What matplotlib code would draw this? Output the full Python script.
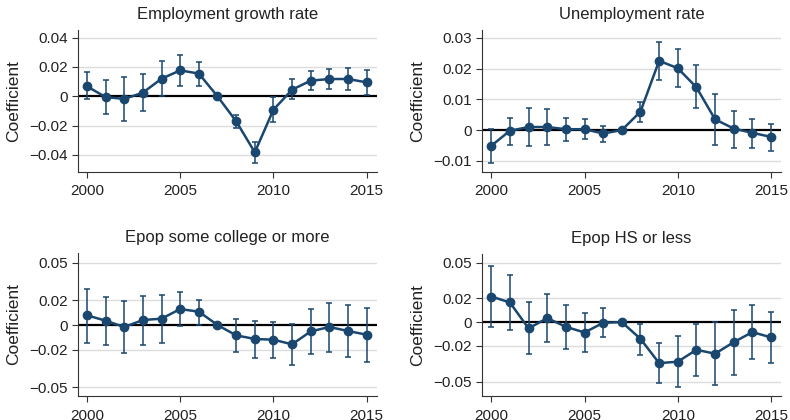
import numpy as np
import matplotlib.pyplot as plt
from matplotlib.ticker import FuncFormatter

plt.rcParams['font.family'] = ['Liberation Sans', 'DejaVu Sans']

years = list(range(2000, 2016))

# Employment growth rate
emp_coef = [0.0068, -0.0005, -0.0018, 0.0025, 0.0120, 0.0177, 0.0155, 0.0,
            -0.0170, -0.0382, -0.0091, 0.0045, 0.0107, 0.0118, 0.0118, 0.0095]
emp_hi = [0.0164, 0.0114, 0.0130, 0.0155, 0.0243, 0.0284, 0.0234, np.nan,
          -0.0125, -0.0314, -0.0007, 0.0118, 0.0170, 0.0186, 0.0195, 0.0177]
emp_lo = [-0.0018, -0.0120, -0.0170, -0.0102, 0.0000, 0.0068, 0.0073, np.nan,
          -0.0216, -0.0452, -0.0175, -0.0018, 0.0045, 0.0050, 0.0045, 0.0011]

# Unemployment rate
unemp_coef = [-0.0051, -0.0002, 0.0010, 0.0010, 0.0003, 0.0003, -0.0011, 0.0,
              0.0060, 0.0225, 0.0201, 0.0139, 0.0035, 0.0005, -0.0009, -0.0022]
unemp_hi = [0.0005, 0.0038, 0.0073, 0.0068, 0.0038, 0.0035, 0.0013, np.nan,
            0.0090, 0.0287, 0.0263, 0.0210, 0.0117, 0.0063, 0.0036, 0.0020]
unemp_lo = [-0.0107, -0.0047, -0.0052, -0.0047, -0.0035, -0.0030, -0.0037, np.nan,
            0.0027, 0.0162, 0.0139, 0.0071, -0.0049, -0.0058, -0.0057, -0.0067]

# Epop some college or more
col_coef = [0.0078, 0.0035, -0.0016, 0.0040, 0.0051, 0.0128, 0.0107, 0.0,
            -0.0083, -0.0112, -0.0118, -0.0155, -0.0051, -0.0016, -0.0048, -0.0078]
col_hi = [0.0289, 0.0227, 0.0195, 0.0233, 0.0240, 0.0265, 0.0200, np.nan,
          0.0045, 0.0035, 0.0021, 0.0011, 0.0128, 0.0179, 0.0160, 0.0139]
col_lo = [-0.0142, -0.0163, -0.0222, -0.0160, -0.0142, -0.0008, 0.0000, np.nan,
          -0.0219, -0.0265, -0.0265, -0.0321, -0.0230, -0.0214, -0.0259, -0.0294]

# Epop HS or less
hs_coef = [0.0215, 0.0165, -0.0053, 0.0034, -0.0039, -0.0087, -0.0006, 0.0,
           -0.0140, -0.0344, -0.0332, -0.0232, -0.0265, -0.0168, -0.0084, -0.0128]
hs_hi = [0.0472, 0.0394, 0.0170, 0.0240, 0.0140, 0.0078, 0.0117, np.nan,
         -0.0014, -0.0176, -0.0115, -0.0014, 0.0000, 0.0106, 0.0140, 0.0084]
hs_lo = [-0.0042, -0.0070, -0.0271, -0.0168, -0.0223, -0.0254, -0.0123, np.nan,
         -0.0279, -0.0511, -0.0542, -0.0453, -0.0528, -0.0441, -0.0307, -0.0341]

titles = ['Employment growth rate', 'Unemployment rate',
          'Epop some college or more', 'Epop HS or less']
xticks = [2000, 2005, 2010, 2015]

navy = '#1a476f'

panels = [
    (titles[0], emp_coef, emp_lo, emp_hi, [0.04, 0.02, 0, -0.02, -0.04],
     (-0.0516, 0.0452), [0.0987, 0.5905, 0.378, 0.338]),
    (titles[1], unemp_coef, unemp_lo, unemp_hi, [0.03, 0.02, 0.01, 0, -0.01],
     (-0.0136, 0.0325), [0.6105, 0.5905, 0.378, 0.338]),
    (titles[2], col_coef, col_lo, col_hi, [0.05, 0.02, 0, -0.02, -0.05],
     (-0.057, 0.0578), [0.0987, 0.0571, 0.378, 0.3405]),
    (titles[3], hs_coef, hs_lo, hs_hi, [0.05, 0.02, 0, -0.02, -0.05],
     (-0.062, 0.0573), [0.6105, 0.0571, 0.378, 0.3385]),
]


def fmt(v, pos):
    if abs(v) < 1e-12:
        return '0'
    return f'{v:.2f}'.replace('-', '\u2212')


fig = plt.figure(figsize=(7.9, 4.2), dpi=100)

for title, coef, lo, hi, yt, ylim, rect in panels:
    ax = fig.add_axes(rect)
    coef = np.array(coef)
    lo = np.array(lo)
    hi = np.array(hi)
    x = np.array(years)
    m = ~np.isnan(lo)

    for t in yt:
        if t != 0:
            ax.axhline(t, color='#dcdcdc', lw=1.0, zorder=0)
    ax.axhline(0, color='black', lw=1.6, zorder=1)

    ax.errorbar(x[m], coef[m], yerr=[coef[m] - lo[m], hi[m] - coef[m]],
                fmt='none', ecolor=navy, elinewidth=1.1, capsize=2.2,
                capthick=1.1, zorder=2)
    ax.plot(x, coef, color=navy, lw=1.8, marker='o', markersize=6, zorder=3)

    ax.set_xlim(1999.52, 2015.53)
    ax.set_ylim(*ylim)
    ax.set_xticks(xticks)
    ax.set_yticks(yt)
    ax.yaxis.set_major_formatter(FuncFormatter(fmt))
    ax.tick_params(labelsize=11, length=4, width=0.8, colors='#333333',
                   labelcolor='#222222')
    ax.tick_params(axis='x', pad=5)
    ax.spines['top'].set_visible(False)
    ax.spines['right'].set_visible(False)
    ax.spines['left'].set_color('#333333')
    ax.spines['bottom'].set_color('#333333')
    ax.set_ylabel('Coefficient', fontsize=12.5, labelpad=6, color='#222222')
    ax.set_title(title, fontsize=12, pad=8, color='#222222')

fig.savefig('out.png', dpi=100)
